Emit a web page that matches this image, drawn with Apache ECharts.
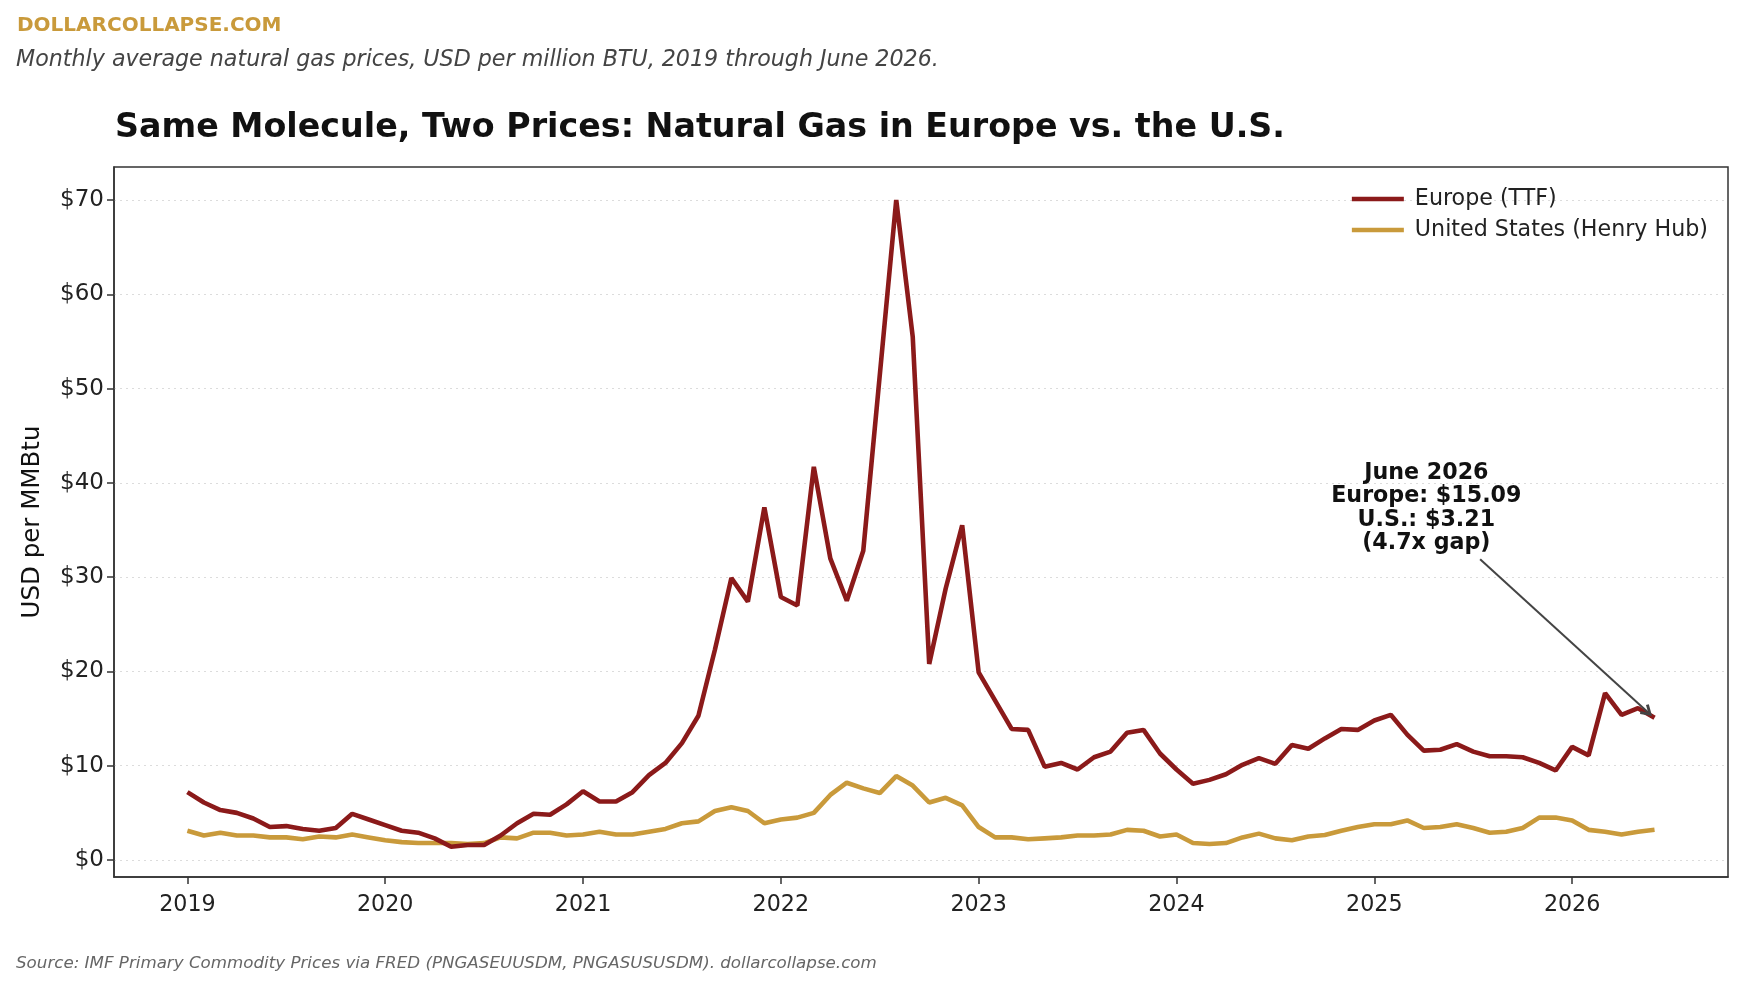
<!DOCTYPE html>
<html>
<head>
<meta charset="utf-8">
<title>natural gas prices</title>
<script type="text/javascript" src="https://cdn.jsdelivr.net/npm/echarts@6/dist/echarts.min.js"></script>
<style>
	html, body { margin: 0; padding: 0; background: #fff; }
	#container { width: 1744px; height: 988px; }
</style>
</head>
<body>
	<div id="container"></div>
	<script type="text/javascript">
	// monthly averages, Jan 2019 .. Jun 2026 (USD / MMBtu)
	var startYear = 2019;
	var europe = [
		7.2, 6.1, 5.3, 5.0, 4.4, 3.5, 3.6, 3.3, 3.1, 3.4, 4.9, 4.3,
		3.7, 3.1, 2.9, 2.3, 1.4, 1.6, 1.6, 2.6, 3.9, 4.9, 4.8, 5.9,
		7.3, 6.2, 6.2, 7.2, 9.0, 10.3, 12.4, 15.3, 22.3, 29.9, 27.4, 37.4,
		27.9, 27.0, 41.7, 32.0, 27.5, 32.8, 51.4, 70.0, 55.5, 20.8, 28.8, 35.5,
		19.9, 16.9, 13.9, 13.8, 9.9, 10.3, 9.6, 10.9, 11.5, 13.5, 13.8, 11.3,
		9.6, 8.1, 8.5, 9.1, 10.1, 10.8, 10.2, 12.2, 11.8, 12.9, 13.9, 13.8,
		14.8, 15.4, 13.3, 11.6, 11.7, 12.3, 11.5, 11.0, 11.0, 10.9, 10.3, 9.5,
		12.0, 11.1, 17.7, 15.4, 16.1, 15.09
	];
	var us = [
		3.1, 2.6, 2.9, 2.6, 2.6, 2.4, 2.4, 2.2, 2.5, 2.4, 2.7, 2.4,
		2.1, 1.9, 1.8, 1.8, 1.8, 1.7, 1.8, 2.4, 2.3, 2.9, 2.9, 2.6,
		2.7, 3.0, 2.7, 2.7, 3.0, 3.3, 3.9, 4.1, 5.2, 5.6, 5.2, 3.9,
		4.3, 4.5, 5.0, 6.9, 8.2, 7.6, 7.1, 8.9, 7.9, 6.1, 6.6, 5.8,
		3.5, 2.4, 2.4, 2.2, 2.3, 2.4, 2.6, 2.6, 2.7, 3.2, 3.1, 2.5,
		2.7, 1.8, 1.7, 1.8, 2.4, 2.8, 2.3, 2.1, 2.5, 2.65, 3.1, 3.5,
		3.8, 3.8, 4.2, 3.4, 3.5, 3.8, 3.4, 2.9, 3.0, 3.4, 4.5, 4.5,
		4.2, 3.2, 3.0, 2.7, 3.0, 3.21
	];
	var yearTicks = [2019, 2020, 2021, 2022, 2023, 2024, 2025, 2026];
	var priceTicks = [0, 10, 20, 30, 40, 50, 60, 70];

	var RED = '#8b1a1a';
	var GOLD = '#c99a3b';
	var FONT = 'DejaVu Sans';

	function toPairs(arr) {
		var out = [];
		for (var i = 0; i < arr.length; i++) {
			out.push([startYear + i / 12, arr[i]]);
		}
		return out;
	}

	var lastX = startYear + (europe.length - 1) / 12;

	// open "->" style head, tip at top
	var chevron = 'path://M5,0 L10,8.6 L8.2,10 L5,4.4 L1.8,10 L0,8.6 Z';

	var dom = document.getElementById("container");
	var myChart = echarts.init(dom, null, { renderer: 'canvas' });

	option = {
		backgroundColor: '#fff',
		animation: false,
		textStyle: { fontFamily: FONT },
		title: [
			{ text: 'DOLLARCOLLAPSE.COM', left: 17, top: 16, padding: 0,
			  textStyle: { fontFamily: FONT, fontSize: 20, fontWeight: 'bold', color: '#c99a3b' } },
			{ text: 'Monthly average natural gas prices, USD per million BTU, 2019 through June 2026.', left: 16, top: 49, padding: 0,
			  textStyle: { fontFamily: FONT, fontSize: 22.2, fontStyle: 'italic', fontWeight: 'normal', color: '#444' } },
			{ text: 'Same Molecule, Two Prices: Natural Gas in Europe vs. the U.S.', left: 115, top: 112, padding: 0,
			  textStyle: { fontFamily: FONT, fontSize: 33.3, fontWeight: 'bold', color: '#111' } },
			{ text: 'Source: IMF Primary Commodity Prices via FRED (PNGASEUUSDM, PNGASUSUSDM). dollarcollapse.com', left: 16, top: 955, padding: 0,
			  textStyle: { fontFamily: FONT, fontSize: 16.7, fontStyle: 'italic', fontWeight: 'normal', color: '#666' } }
		],
		legend: {
			orient: 'vertical',
			right: 36,
			top: 188,
			padding: 0,
			itemWidth: 52,
			itemHeight: 4.5,
			itemGap: 9,
			icon: 'rect',
			textStyle: { fontFamily: FONT, fontSize: 22.2, color: '#222', padding: [0, 0, 0, 6] },
			data: ['Europe (TTF)', 'United States (Henry Hub)']
		},
		grid: {
			left: 114, right: 16, top: 167, bottom: 111,
			show: true, borderColor: '#333', borderWidth: 1.5, backgroundColor: 'transparent'
		},
		xAxis: {
			type: 'value',
			min: 2018.629,
			max: 2026.788,
			axisLine: { show: true, onZero: false, lineStyle: { color: '#333', width: 1.5 } },
			axisTick: { show: true, length: 7, customValues: yearTicks, lineStyle: { color: '#333', width: 1.5 } },
			axisLabel: { customValues: yearTicks, fontFamily: FONT, fontSize: 22.2, color: '#222', margin: 17,
				formatter: function (v) { return String(Math.round(v)); } },
			splitLine: { show: false }
		},
		yAxis: {
			type: 'value',
			min: -1.8,
			max: 73.5,
			name: 'USD per MMBtu',
			nameLocation: 'middle',
			nameGap: 69,
			nameTextStyle: { fontFamily: FONT, fontSize: 24.5, color: '#111' },
			axisLine: { show: true, lineStyle: { color: '#333', width: 1.5 } },
			axisTick: { show: true, length: 7, customValues: priceTicks, lineStyle: { color: '#333', width: 1.5 } },
			axisLabel: { customValues: priceTicks, fontFamily: FONT, fontSize: 23, color: '#222', margin: 10,
				formatter: function (v) { return '$' + Math.round(v); } },
			splitLine: { show: true, lineStyle: { color: '#dcdcdc', type: [2, 4], width: 1 } }
		},
		series: [
			{
				name: 'Europe (TTF)',
				type: 'line',
				data: toPairs(europe),
				showSymbol: false,
				symbol: 'none',
				itemStyle: { color: RED },
				lineStyle: { color: RED, width: 4.6 },
				z: 3,
				markLine: {
					silent: true,
					z: 10,
					symbol: ['none', chevron],
					symbolSize: [13, 12],
					label: { show: false },
					itemStyle: { color: '#444' },
					lineStyle: { color: '#444', width: 2, type: 'solid' },
					data: [[
						{ coord: [2025.535, 31.9] },
						{ coord: [lastX - 0.035, 15.7] }
					]]
				},
				markPoint: {
					silent: true,
					symbol: 'circle',
					symbolSize: 0,
					data: [{
						coord: [2025.263, 37.3],
						label: {
							show: true,
							position: 'inside',
							formatter: 'June 2026\nEurope: $15.09\nU.S.: $3.21\n(4.7x gap)',
							fontFamily: FONT,
							fontSize: 22.2,
							fontWeight: 'bold',
							lineHeight: 23.5,
							align: 'center',
							color: '#111'
						}
					}]
				}
			},
			{
				name: 'United States (Henry Hub)',
				type: 'line',
				data: toPairs(us),
				showSymbol: false,
				symbol: 'none',
				itemStyle: { color: GOLD },
				lineStyle: { color: GOLD, width: 4.6 },
				z: 2
			}
		]
	};

	myChart.setOption(option, true);
</script>
</body>
</html>
